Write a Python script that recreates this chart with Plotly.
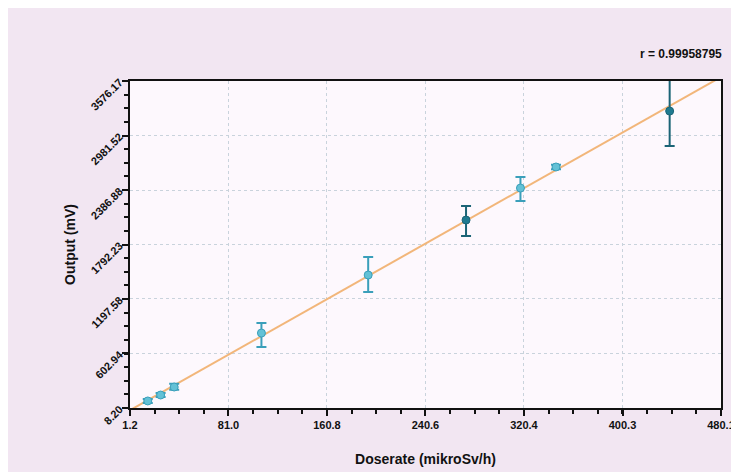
import numpy as np
import plotly.graph_objects as go

# ---- data ----
dose = [15.6, 26.0, 37.0, 107.7, 194.2, 273.5, 317.6, 346.4, 438.5]
output = [85, 150, 237, 826, 1459, 2059, 2408, 2638, 3248]
err_plus = [22, 22, 35, 109, 197, 153, 120, 25, 420]
err_minus = [22, 22, 30, 152, 185, 174, 141, 25, 381]
dark_idx = [5, 8]  # points drawn in the darker teal

x_tickvals = [1.2, 81.0, 160.8, 240.6, 320.4, 400.3, 480.1]
x_ticktext = ["1.2", "81.0", "160.8", "240.6", "320.4", "400.3", "480.1"]
y_tickvals = [8.20, 602.94, 1197.58, 1792.23, 2386.88, 2981.52, 3576.17]
y_ticktext = ["8.20", "602.94", "1197.58", "1792.23", "2386.88", "2981.52", "3576.17"]
r_text = "r = 0.99958795"

# linear fit through the data
b, a = np.polyfit(dose, output, 1)
fit_x = [x_tickvals[0], x_tickvals[-1]]
fit_y = [a + b * v for v in fit_x]

light_idx = [i for i in range(len(dose)) if i not in dark_idx]

fig = go.Figure()
fig.add_trace(go.Scatter(x=fit_x, y=fit_y, mode="lines",
                         line=dict(color="#f2b67a", width=2), hoverinfo="skip"))

def add_group(idx, mcolor, ecolor):
    fig.add_trace(go.Scatter(
        x=[dose[i] for i in idx], y=[output[i] for i in idx], mode="markers",
        marker=dict(color=mcolor, size=8, line=dict(color=ecolor, width=1)),
        error_y=dict(type="data", symmetric=False,
                     array=[err_plus[i] for i in idx],
                     arrayminus=[err_minus[i] for i in idx],
                     color=ecolor, thickness=2, width=5)))

add_group(light_idx, "#63c1d6", "#3a9fba")
add_group(dark_idx, "#1f7a90", "#1b6476")

font_b = "Liberation Sans, Arial, sans-serif"
fig.update_layout(
    width=739, height=472,
    margin=dict(l=122, r=26, t=73, b=72),
    paper_bgcolor="#f2e6f2",
    plot_bgcolor="#fdf8fd",
    showlegend=False,
    font=dict(family=font_b, color="#111111"),
    annotations=[dict(text="<b>" + r_text + "</b>", xref="paper", yref="paper",
                      x=1.005, y=1.055, xanchor="right", yanchor="bottom",
                      showarrow=False, font=dict(size=12, color="#111111"))],
)
fig.update_xaxes(
    range=[x_tickvals[0], x_tickvals[-1]], automargin=False,
    tickvals=x_tickvals, ticktext=["<b>" + t + "</b>" for t in x_ticktext],
    tickfont=dict(size=11), ticks="outside", ticklen=6, tickwidth=2, tickcolor="#111",
    showline=True, linecolor="#111", linewidth=2, mirror=True,
    showgrid=True, gridcolor="#c9d3dc", griddash="dot", gridwidth=1,
    zeroline=False,
    minor=dict(tick0=1.2, dtick=19.95, ticks="outside", ticklen=4, tickcolor="#111", showgrid=False),
    title=dict(text="<b>Doserate (mikroSv/h)</b>", font=dict(size=14), standoff=24),
)
fig.update_yaxes(
    range=[y_tickvals[0], y_tickvals[-1]], automargin=False,
    tickvals=y_tickvals, ticktext=["<b>" + t + "</b>" for t in y_ticktext],
    tickfont=dict(size=11), tickangle=-45, ticks="outside", ticklen=6, tickwidth=2, tickcolor="#111",
    showline=True, linecolor="#111", linewidth=2, mirror=True,
    showgrid=True, gridcolor="#c9d3dc", griddash="dot", gridwidth=1,
    zeroline=False,
    minor=dict(tick0=8.2, dtick=148.66, ticks="outside", ticklen=4, tickcolor="#111", showgrid=False),
    title=dict(text="<b>Output (mV)</b>", font=dict(size=14), standoff=10),
)

fig.write_html("out.html")
